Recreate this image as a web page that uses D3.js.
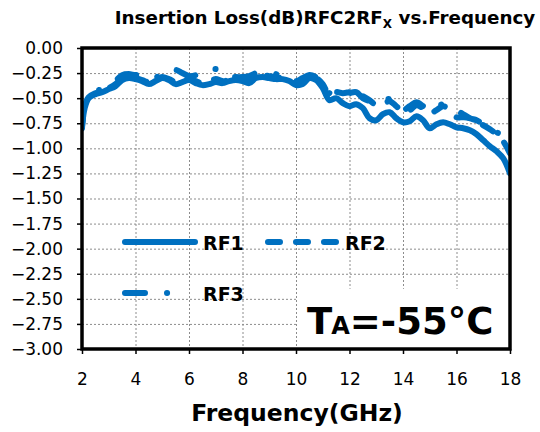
<!DOCTYPE html>
<html>
<head>
<meta charset="utf-8">
<script src="https://cdn.jsdelivr.net/npm/d3@7"></script>
<style>
  body { margin: 0; background: #fff; }
  svg { display: block; }
</style>
</head>
<body>
<div id="chart"></div>
<script>
// values
var freq = [2.0, 2.1, 2.25, 2.5, 2.75, 3.0, 3.25, 3.5, 3.75, 4.0, 4.25, 4.5, 4.75, 5.0, 5.25, 5.5, 5.75,
  6.0, 6.25, 6.5, 6.75, 7.0, 7.25, 7.5, 7.75, 8.0, 8.25, 8.5, 8.75, 9.0, 9.25, 9.5, 9.75,
  10.0, 10.25, 10.5, 10.75, 11.0, 11.25, 11.5, 11.75, 12.0, 12.25, 12.5, 12.75, 13.0, 13.25, 13.5, 13.75,
  14.0, 14.25, 14.5, 14.75, 15.0, 15.25, 15.5, 15.75, 16.0, 16.25, 16.5, 16.75, 17.0, 17.25, 17.5, 17.75, 18.0];

var rf1 = [-0.78, -0.60, -0.50, -0.46, -0.44, -0.41, -0.38, -0.32, -0.30, -0.31, -0.33, -0.36, -0.33, -0.30, -0.32, -0.36, -0.34,
  -0.32, -0.35, -0.37, -0.36, -0.34, -0.35, -0.33, -0.32, -0.33, -0.35, -0.30, -0.29, -0.30, -0.31, -0.31, -0.33,
  -0.37, -0.36, -0.30, -0.32, -0.40, -0.52, -0.50, -0.55, -0.58, -0.56, -0.60, -0.70, -0.72, -0.66, -0.64, -0.70,
  -0.74, -0.73, -0.68, -0.72, -0.80, -0.76, -0.74, -0.76, -0.79, -0.80, -0.82, -0.86, -0.92, -0.98, -1.03, -1.10, -1.25];

var rf2 = [-0.80, -0.58, -0.49, -0.45, -0.43, -0.40, -0.36, -0.30, -0.29, -0.30, -0.32, -0.34, -0.31, -0.29, -0.31, -0.34, -0.32,
  -0.30, -0.33, -0.35, -0.33, -0.31, -0.33, -0.32, -0.30, -0.31, -0.33, -0.28, -0.27, -0.28, -0.29, -0.30, -0.32,
  -0.36, -0.33, -0.28, -0.30, -0.36, -0.47, -0.44, -0.45, -0.44, -0.43, -0.48, -0.52, -0.57, -0.56, -0.53, -0.58,
  -0.64, -0.62, -0.57, -0.60, -0.65, -0.62, -0.58, -0.62, -0.69, -0.69, -0.70, -0.74, -0.77, -0.81, -0.86, -0.93, -1.05];

var rf3 = [-0.76, -0.55, -0.47, -0.43, -0.41, -0.38, -0.33, -0.27, -0.26, -0.27, -0.26, -0.25, -0.28, -0.30, -0.27, -0.22, -0.25,
  -0.28, -0.27, -0.22, -0.21, -0.21, -0.22, -0.28, -0.29, -0.29, -0.28, -0.25, -0.24, -0.25, -0.26, -0.27, -0.29,
  -0.33, -0.30, -0.27, -0.29, -0.35, -0.45, -0.45, -0.47, -0.45, -0.44, -0.50, -0.53, -0.55, -0.52, -0.51, -0.57,
  -0.62, -0.58, -0.54, -0.58, -0.63, -0.59, -0.56, -0.58, -0.62, -0.66, -0.70, -0.72, -0.76, -0.80, -0.84, -0.88, -0.96];

var xTicks = [2, 4, 6, 8, 10, 12, 14, 16, 18];
var yTicks = [0, -0.25, -0.5, -0.75, -1, -1.25, -1.5, -1.75, -2, -2.25, -2.5, -2.75, -3];
var seriesNames = ["RF1", "RF2", "RF3"];

var width = 540, height = 432;
var margin = { top: 48, right: 30, bottom: 83, left: 82 };
var blue = "#0070C0";
var font = "'DejaVu Sans', Verdana, sans-serif";

var svg = d3.select("#chart").append("svg")
  .attr("width", width)
  .attr("height", height)
  .style("font-family", font);

var x = d3.scaleLinear().domain([2, 18]).range([margin.left, width - margin.right]);
var y = d3.scaleLinear().domain([-3, 0]).range([height - margin.bottom, margin.top]);

// grid
var grid = svg.append("g")
  .attr("stroke", "#8c8c8c")
  .attr("stroke-width", 1)
  .attr("stroke-dasharray", "2,2");
grid.selectAll("line.v")
  .data(xTicks.slice(1, -1))
  .enter().append("line")
  .attr("x1", d => x(d) + 0.5).attr("x2", d => x(d) + 0.5)
  .attr("y1", y(0)).attr("y2", y(-3));
grid.selectAll("line.h")
  .data(yTicks.slice(1, -1))
  .enter().append("line")
  .attr("y1", d => y(d) + 0.5).attr("y2", d => y(d) + 0.5)
  .attr("x1", x(2)).attr("x2", x(18));

// annotation box hides grid behind it
svg.append("rect")
  .attr("x", x(10) + 2).attr("y", y(-2.4))
  .attr("width", x(18) - x(10) - 2).attr("height", y(-3) - y(-2.4))
  .attr("fill", "#fff");

// data lines
var series = [
  { name: "RF1", values: rf1, dash: null },
  { name: "RF2", values: rf2, dash: "12,16" },
  { name: "RF3", values: rf3, dash: "20,22,0.1,22" }
];

var line = d3.line()
  .x((d, i) => x(freq[i]))
  .y(d => y(d))
  .curve(d3.curveCatmullRom);

svg.append("clipPath").attr("id", "plotclip")
  .append("rect")
  .attr("x", x(2)).attr("y", y(0))
  .attr("width", x(18) - x(2)).attr("height", y(-3) - y(0));

svg.append("g")
  .attr("clip-path", "url(#plotclip)")
  .selectAll("path")
  .data(series)
  .enter().append("path")
  .attr("d", d => line(d.values))
  .attr("fill", "none")
  .attr("stroke", blue)
  .attr("stroke-width", 6)
  .attr("stroke-linecap", "round")
  .attr("stroke-linejoin", "round")
  .attr("stroke-dasharray", d => d.dash);

// axes
var xAxis = d3.axisBottom(x).tickValues(xTicks).tickSize(5).tickFormat(d3.format("d"));
var yAxis = d3.axisLeft(y).tickValues(yTicks).tickSize(5).tickFormat(d3.format(".2f"));

var gx = svg.append("g")
  .attr("transform", `translate(0,${y(-3)})`)
  .call(xAxis);
gx.select(".domain").remove();
gx.selectAll("line").attr("stroke", "#000").attr("stroke-width", 1.5);
gx.selectAll("text")
  .attr("font-size", 17).attr("font-family", font).attr("fill", "#000")
  .attr("dy", "1.65em");

var gy = svg.append("g")
  .attr("transform", `translate(${x(2)},0)`)
  .call(yAxis);
gy.select(".domain").remove();
gy.selectAll("line").attr("stroke", "#000").attr("stroke-width", 1.5);
gy.selectAll("text")
  .attr("font-size", 17).attr("font-family", font).attr("fill", "#000")
  .attr("x", -19)
  .text(d => d === 0 ? "0.00" : d3.format(".2f")(d));

// frame
svg.append("rect")
  .attr("x", x(2)).attr("y", y(0))
  .attr("width", x(18) - x(2)).attr("height", y(-3) - y(0))
  .attr("fill", "none")
  .attr("stroke", "#000")
  .attr("stroke-width", 3.5);

// title
var title = svg.append("text")
  .attr("x", 325).attr("y", 24)
  .attr("text-anchor", "middle")
  .attr("font-weight", "bold")
  .attr("font-size", 18.3);
title.append("tspan").text("Insertion Loss(dB)RFC2RF");
title.append("tspan").attr("font-size", 12).attr("dy", 4).text("X");
title.append("tspan").attr("dy", -4).text(" vs.Frequency");

// x axis title
svg.append("text")
  .attr("x", 297).attr("y", 421)
  .attr("text-anchor", "middle")
  .attr("font-weight", "bold")
  .attr("font-size", 23.5)
  .text("Frequency(GHz)");

// legend
var legendPos = [
  { x1: 125, x2: 195, y: 242, tx: 203 },
  { x1: 268, x2: 338, y: 242, tx: 345 },
  { x1: 125, x2: 176, y: 293, tx: 203 }
];
var leg = svg.append("g").selectAll("g")
  .data(series)
  .enter().append("g");
leg.append("line")
  .attr("x1", (d, i) => legendPos[i].x1)
  .attr("x2", (d, i) => legendPos[i].x2)
  .attr("y1", (d, i) => legendPos[i].y)
  .attr("y2", (d, i) => legendPos[i].y)
  .attr("stroke", blue)
  .attr("stroke-width", 6)
  .attr("stroke-linecap", "round")
  .attr("stroke-dasharray", d => d.dash);
leg.append("text")
  .attr("x", (d, i) => legendPos[i].tx)
  .attr("y", (d, i) => legendPos[i].y + 8)
  .attr("font-weight", "bold")
  .attr("font-size", 19)
  .text(d => d.name);

// temperature note
var note = svg.append("text")
  .attr("x", 307).attr("y", 334)
  .attr("font-weight", "bold")
  .attr("font-size", 37);
note.append("tspan").text("T");
note.append("tspan").attr("font-size", 24).attr("dx", -1).text("A");
note.append("tspan").text("=-55°C");
</script>
</body>
</html>
